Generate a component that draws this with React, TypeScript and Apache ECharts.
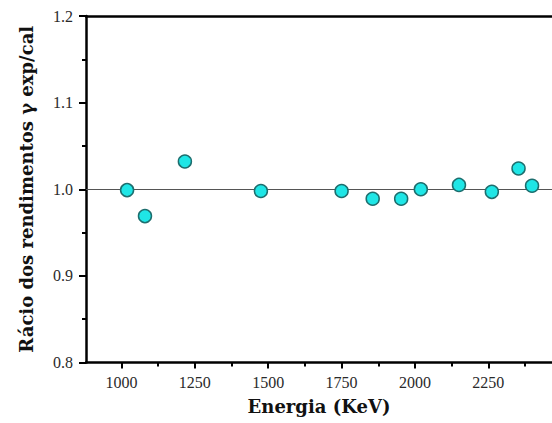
import React, { useEffect, useRef } from "react";
import * as echarts from "echarts";

const energies = [1019, 1080, 1216, 1475, 1750, 1856, 1953, 2020, 2150, 2262, 2353, 2399];
const ratios = [0.999, 0.969, 1.032, 0.998, 0.998, 0.989, 0.989, 1.0, 1.005, 0.997, 1.024, 1.004];
const xMajorTicks = [1000, 1250, 1500, 1750, 2000, 2250];
const xMinorTicks = [1125, 1375, 1625, 1875, 2125, 2375];
const xTitle = "Energia (KeV)";
const yTitle = "Rácio dos rendimentos γ exp/cal";

const LABEL_FONT = "Liberation Serif";
const TITLE_FONT = "DejaVu Serif";

export default function App() {
  const ref = useRef<HTMLDivElement>(null);
  useEffect(() => {
    if (!ref.current) return;
    const chart = echarts.init(ref.current, null, { renderer: "svg" });
    const xMin = 879;
    const xMax = 2467;
    chart.setOption({
      animation: false,
      backgroundColor: "#ffffff",
      grid: { left: 86, right: 0, top: 16, bottom: 60.5, outerBoundsMode: "none", containLabel: false },
      xAxis: [
        {
          type: "value",
          min: xMin,
          max: xMax,
          position: "bottom",
          name: xTitle,
          nameLocation: "middle",
          nameGap: 35,
          nameTextStyle: { fontFamily: TITLE_FONT, fontWeight: "bold", fontSize: 18, color: "#111" },
          axisLine: { show: true, lineStyle: { color: "#000", width: 2.5 } },
          axisTick: { show: true, inside: false, length: 6, customValues: xMajorTicks, lineStyle: { color: "#000", width: 2 } },
          axisLabel: { show: true, customValues: xMajorTicks, margin: 12, fontFamily: LABEL_FONT, fontSize: 16, color: "#2a2a2a", formatter: (v: number) => String(v) },
          splitLine: { show: false },
        },
        {
          type: "value",
          min: xMin,
          max: xMax,
          position: "bottom",
          offset: 0,
          axisLine: { show: false },
          axisTick: { show: true, inside: false, length: 4, customValues: xMinorTicks, lineStyle: { color: "#000", width: 2 } },
          axisLabel: { show: false },
          splitLine: { show: false },
        },
        {
          type: "value",
          min: xMin,
          max: xMax,
          position: "top",
          axisLine: { show: true, lineStyle: { color: "#000", width: 2.5 } },
          axisTick: { show: false },
          axisLabel: { show: false },
          splitLine: { show: false },
        },
      ],
      yAxis: {
        type: "value",
        min: 0.8,
        max: 1.2,
        interval: 0.1,
        name: yTitle,
        nameLocation: "middle",
        nameGap: 51,
        nameRotate: 90,
        nameTextStyle: { fontFamily: TITLE_FONT, fontWeight: "bold", fontSize: 18, color: "#111" },
        axisLine: { show: true, lineStyle: { color: "#000", width: 2.5 } },
        axisTick: { show: true, inside: false, length: 7, lineStyle: { color: "#000", width: 2 } },
        minorTick: { show: true, splitNumber: 2, length: 4, lineStyle: { color: "#000", width: 2 } },
        axisLabel: { fontFamily: LABEL_FONT, fontSize: 16, color: "#2a2a2a", margin: 13, formatter: (v: number) => v.toFixed(1) },
        splitLine: { show: false },
      },
      series: [
        {
          type: "scatter",
          xAxisIndex: 0,
          data: energies.map((e, i) => [e, ratios[i]]),
          symbol: "circle",
          symbolSize: 13,
          itemStyle: { color: "#1fe6e6", borderColor: "#1d6e6e", borderWidth: 1.5, opacity: 1 },
          z: 5,
          markLine: {
            silent: true,
            symbol: "none",
            label: { show: false },
            lineStyle: { color: "#555", width: 1, type: "solid" },
            data: [{ yAxis: 1.0 }],
            z: 1,
          },
        },
      ],
    });
    return () => chart.dispose();
  }, []);
  return <div ref={ref} style={{ position: "fixed", left: 0, top: 0, width: 552, height: 423 }} />;
}
